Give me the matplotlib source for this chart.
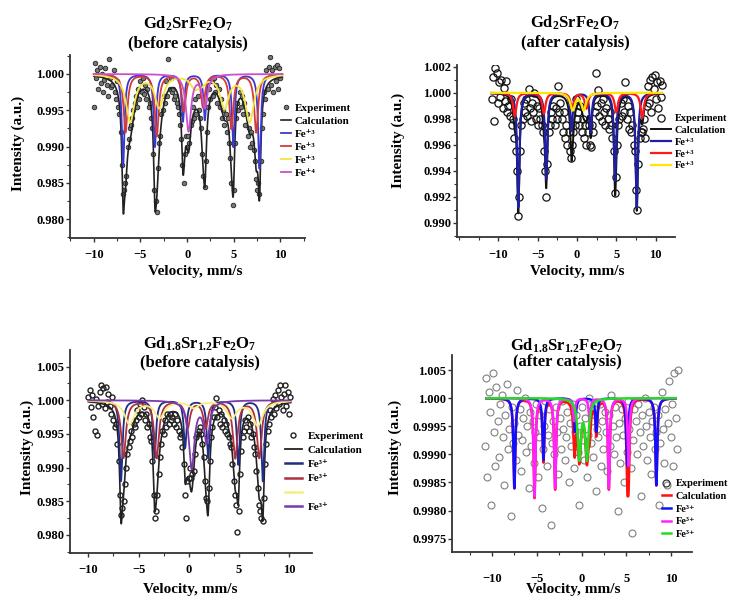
import numpy as np
import matplotlib.pyplot as plt
from matplotlib.lines import Line2D
from matplotlib.ticker import MultipleLocator, FixedLocator, FixedFormatter, FormatStrFormatter

plt.rcParams['font.family'] = ['Liberation Serif', 'DejaVu Serif']
plt.rcParams['font.weight'] = 'bold'
plt.rcParams['mathtext.fontset'] = 'custom'
plt.rcParams['mathtext.rm'] = 'Liberation Serif:bold'
plt.rcParams['mathtext.it'] = 'Liberation Serif:bold'
plt.rcParams['mathtext.bf'] = 'Liberation Serif:bold'

# ---------------------------------------------------------------------------
# line parameters: position (mm/s), depth (1e-4 of baseline), half width
# A: Gd2SrFe2O7 before catalysis
a_blue_pos = [-6.85, -3.45, -0.45, 1.9, 4.95, 7.75]
a_blue_dep = [125, 100, 65, 63, 100, 130]
a_red_pos = [-6.6, -3.25, -0.35, 1.7, 4.75, 7.4]
a_red_dep = [80, 85, 50, 45, 75, 80]
a_yel_pos = [-6.1, -3.0, 0.8, 1.5, 4.0, 6.7]
a_yel_dep = [65, 45, 15, 10, 45, 65]
a_mag_pos = [0.15, 1.9]
a_mag_dep = [78, 45]
a_hw = [0.17, 0.25, 0.55, 0.33]

# B: Gd2SrFe2O7 after catalysis
b_blue_pos = [-7.45, -3.9, -0.7, 1.75, 4.85, 7.6]
b_blue_dep = [88, 66, 29, 30, 67, 88]
b_red_pos = [-7.9, -4.2, -0.6, 1.2, 5.0, 8.3]
b_red_dep = [18, 16, 12, 12, 15, 19]
b_yel_pos = [-0.55, 0.85]
b_yel_dep = [13, 13]
b_hw = [0.17, 0.25, 0.35]

# C: Gd1.8Sr1.2Fe2O7 before catalysis
c_blue_pos = [-6.75, -3.4, -0.35, 1.95, 4.95, 7.4]
c_blue_dep = [120, 85, 70, 85, 95, 120]
c_red_pos = [-6.5, -3.2, -0.1, 1.7, 4.65, 7.05]
c_red_dep = [85, 85, 40, 40, 85, 85]
c_yel_pos = [-5.9, -2.9, 0.5, 4.3, 6.9]
c_yel_dep = [35, 25, 10, 25, 37]
c_pur_pos = [0.3, 1.8]
c_pur_dep = [100, 60]
c_hw = [0.17, 0.28, 0.6, 0.33]

# D: Gd1.8Sr1.2Fe2O7 after catalysis
d_blue_pos = [-7.5, -4.25, -0.75, 1.65, 5.1, 8.35]
d_blue_dep = [16, 11, 6, 6, 12, 15.5]
d_mag_pos = [-5.25, -2.95, -0.85, 0.9, 3.05, 5.25]
d_mag_dep = [17.5, 16, 4, 4, 16, 12]
d_grn_pos = [-0.25, 0.6]
d_grn_dep = [10.5, 10.5]
d_hw = [0.12, 0.12, 0.22]

# experimental points: deviation from 1 in units of 1e-4, evenly spaced channels
a_exp = [-45, 15, -5, 5, -20, 10, -12, 0, -25, -8, 8, -15, -30, 20, -5, -18,
         -15, 5, -25, -35, -10, -45, -55, -80, -125, -165, -160, -150, -140, -100, -90, -75,
         -70, -60, -50, -40, -30, -45, -20, -35, -10, -25, -5, -28, -15, -35, -20, -45,
         -40, -60, -75, -110, -160, -175, -190, -130, -95, -85, -55, -50, -30, -40, -10, -30,
         20, -20, -5, -25, -20, -35, -30, -40, -45, -55, -70, -90, -125, -150, -110, -85,
         -100, -85, -95, -70, -65, -45, -60, -35, -55, -30, -50, -60, -75, -110, -140, -155,
         -120, -80, -45, -20, -35, -10, -30, -5, -25, -15, -40, -20, -45, -35, -60, -50,
         -70, -55, -80, -60, -95, -115, -150, -180, -160, -95, -60, -40, -50, -25, -45, -30,
         -55, -40, -70, -55, -85, -75, -100, -80, -95, -105, -120, -145, -160, -150, -165, -120,
         -75, -55, -25, -35, 5, -20, 10, 24, -15, 5, -25, 10, -10, 12, -20, 8, -5]
b_exp = [-5, 12, -22, 19, 15, -8, 8, -3, 10, -12, 4, -6, 9, -15, -10,
         -18, -5, -25, -20, -35, -45, -60, -95, -80, -45, -25, -20, -8, -15, -5,
         -18, 3, -12, -22, -8, -15, 0, -20, -10, -25, -12, -20, -25, -30, -45,
         -60, -80, -55, -30, -25, -15, -20, -10, -25, -12, -20, 5, -15, -8, -20,
         -30, -15, -35, -25, -40, -30, -45, -50, -40, -30, -25, -5, -20, -15, -25,
         -10, -30, -20, -35, -25, -40, -30, -25, -40, -42, -25, -30, -15, 15, -10,
         2, -18, -8, -22, -5, -15, -25, -12, -20, -28, -15, -25, -35, -45, -77,
         -65, -40, -25, -20, -8, -18, -5, -15, 8, -20, -10, -28, -15, -30, -25,
         -40, -45, -75, -90, -55, -35, -30, -30, -28, -20, -35, -10, 5, -8, 10,
         -15, 12, 3, 14, -5, 8, -12, 9, -3, 6]
c_exp = [5, 15, -10, 8, -25, -45, 2, -52, -8, 12, 22, -5, 18, -12, 20, -3,
         10, -8, -20, 5, -30, -40, -35, -65, -90, -140, -170, -160, -150, -125, -100, -80,
         -70, -60, -45, -55, -35, -40, -30, -15, -25, -5, -20, 0, -10, -30, -20, -40,
         -35, -55, -60, -90, -140, -175, -165, -140, -110, -85, -65, -45, -50, -30, -40, -20,
         -35, -20, -30, -25, -35, -20, -40, -30, -45, -55, -50, -70, -95, -140, -175, -120,
         -115, -100, -115, -110, -105, -80, -55, -50, -45, -40, -50, -65, -85, -120, -145, -150,
         -130, -90, -55, -40, -25, -10, 3, -25, -15, -35, -20, -40, -30, -45, -35, -50,
         -55, -65, -70, -95, -120, -140, -155, -196, -165, -110, -75, -55, -45, -30, -40, -25,
         -45, -35, -55, -50, -70, -80, -105, -130, -155, -165, -175, -180, -145, -95, -65, -45,
         -35, -15, -25, 2, -20, 8, -12, 15, -5, 22, 5, -15, 10, 22, -8, 12, -20, 5]
d_exp = [-8.5, 3.5, -14, 1, -2.5, -19, 4.5, -6, -12, 2, -4, -10.5, -1, 0.5, -7, -15.5,
         -3, 2.5, -9, -5.5, -21, -1.5, -8, -4.5, -11, 1.5, -6.5, -2, -13, -7.5, -3.5, 0,
         -9.5, -5, -16, -2.5, -8.5, -4, -11.5, -6, -1, -14, -7, -3, -19.5, -9, -5, -0.5,
         -12, -6.5, -2, -22.5, -8, -4, -10, -1.5, -6, -13.5, -3.5, -9, -0.5, -5.5, -11, -7,
         -2.5, -15, -4.5, -8.5, -1, -12.5, -6, -3, -9.5, -19, -5, -1.5, -7.5, -11, -3.5, -14,
         -6.5, 0, -8, -4, -10.5, -2, -16.5, -5.5, -7, -1, -12, -4, -9, -2.5, -6, -13, -3,
         -8.5, 0.5, -5, -10, -1.5, -7, -20, -4.5, -11.5, -2, -6.5, -15, -3.5, -9.5, -0.5,
         -5.5, -12.5, -24, -7.5, -2, -4, -10, -1, -6, -17.5, -3, -8.5, 0, -5, -11, -2.5, -7,
         -13.5, -4, -1.5, -9, -6, -3, -19, -8, 1, -5.5, -11.5, -2, -15.5, -4.5, 3, -7, -1,
         -12, 4.5, -3.5, -9, 5]

W, H = 734, 599
fig = plt.figure(figsize=(W / 100, H / 100), dpi=100)


def dips(v, pos, dep, hw):
    out = np.zeros_like(v)
    for p, d in zip(pos, dep):
        out += d / (1 + ((v - p) / hw) ** 2)
    return out * 1e-4


def make_ax(l, t, r, b, xlim, ylim, xpad):
    ax = fig.add_axes([l / W, 1 - b / H, (r - l) / W, (b - t) / H])
    ax.set_xlim(xlim)
    ax.set_ylim(ylim)
    for s in ['top', 'right']:
        ax.spines[s].set_visible(False)
    for s in ['left', 'bottom']:
        ax.spines[s].set_linewidth(1.3)
        ax.spines[s].set_color('#333333')
    ax.tick_params(labelsize=9, width=1, length=3, color='#333333')
    ax.tick_params(axis='y', pad=1)
    ax.tick_params(axis='x', pad=xpad)
    ax.tick_params(which='minor', length=2, width=0.8, color='#333333')
    ax.xaxis.set_major_locator(FixedLocator([-10, -5, 0, 5, 10]))
    ax.xaxis.set_minor_locator(MultipleLocator(2.5))
    return ax


def texts(tx, ty1, ty2, formula, state, ylx, yly, xlx, xly):
    fig.text(tx / W, 1 - ty1 / H, formula, ha='center', va='center', fontsize=12, fontweight='bold')
    fig.text(tx / W, 1 - ty2 / H, state, ha='center', va='center', fontsize=12, fontweight='bold')
    fig.text(ylx / W, 1 - yly / H, 'Intensity (a.u.)', rotation=90, ha='center', va='center',
             fontsize=11, fontweight='bold')
    fig.text(xlx / W, 1 - xly / H, 'Velocity, mm/s', ha='center', va='center',
             fontsize=11, fontweight='bold')


def add_legend(ax, handles, labels, x, y, fs, hl, htp, ls):
    ax.legend(handles, labels, loc='upper left', bbox_to_anchor=(x / W, 1 - y / H),
              bbox_transform=fig.transFigure, frameon=False, fontsize=fs, handlelength=hl,
              handletextpad=htp, labelspacing=ls, borderpad=0, borderaxespad=0)


# ---------------- panel A ----------------
ax = make_ax(70, 55, 305, 238, (-12.55, 12.63), (0.97743, 1.00261), 5)
ax.yaxis.set_major_locator(MultipleLocator(0.005))
ax.yaxis.set_minor_locator(MultipleLocator(0.0025))
ax.yaxis.set_major_formatter(FormatStrFormatter('%.3f'))
v = np.linspace(-10, 10.2, 2000)
ve = np.linspace(-10, 10, len(a_exp))
ax.plot(ve, 1 + np.array(a_exp) * 1e-4, 'o', ms=3.3, mfc='#777777', mec='#222222', mew=0.6, zorder=1)
comps = [(a_blue_pos, a_blue_dep, a_hw[0], '#3a3ad0'), (a_red_pos, a_red_dep, a_hw[1], '#d23c3c'),
         (a_yel_pos, a_yel_dep, a_hw[2], '#f2e640'), (a_mag_pos, a_mag_dep, a_hw[3], '#cc4fcc')]
total = sum(dips(v, p, d, w) for p, d, w, c in comps)
ax.plot(v, 1 - total, color='#222222', lw=1.2, zorder=2)
for p, d, w, c in comps:
    ax.plot(v, 1 - dips(v, p, d, w), color=c, lw=1.3, zorder=3)
h = [Line2D([], [], ls='none', marker='o', ms=3.3, mfc='#777777', mec='#222222', mew=0.6),
     Line2D([], [], color='#222222', lw=1.2)] + [Line2D([], [], color=c[3], lw=1.3) for c in comps]
add_legend(ax, h, ['Experiment', 'Calculation', 'Fe⁺³', 'Fe⁺³', 'Fe⁺³', 'Fe⁺⁴'], 281, 103, 8, 0.9, 0.3, 0.3)
texts(188, 24, 44, r'Gd$_2$SrFe$_2$O$_7$', '(before catalysis)', 18, 143, 195, 272)

# ---------------- panel B ----------------
ax = make_ax(457, 65, 675, 237, (-15.24, 12.46), (0.98892, 1.00213), 6)
ax.yaxis.set_major_locator(MultipleLocator(0.002))
ax.yaxis.set_minor_locator(MultipleLocator(0.001))
ax.yaxis.set_major_formatter(FormatStrFormatter('%.3f'))
v = np.linspace(-10.9, 10.8, 2000)
ve = np.linspace(-10.8, 10.8, len(b_exp))
ax.plot(ve, 1 + np.array(b_exp) * 1e-4, 'o', ms=5.2, mfc='none', mec='#111111', mew=0.9, zorder=1)
comps = [(b_blue_pos, b_blue_dep, b_hw[0], '#1f1f9f'), (b_red_pos, b_red_dep, b_hw[1], '#ff1a1a'),
         (b_yel_pos, b_yel_dep, b_hw[2], '#ffe600')]
total = sum(dips(v, p, d, w) for p, d, w, c in comps)
ax.plot(v, 1 - total, color='#111111', lw=1.4, zorder=2)
for p, d, w, c in comps:
    ax.plot(v, 1 - dips(v, p, d, w), color=c, lw=1.6, zorder=3)
h = [Line2D([], [], ls='none', marker='o', ms=5.2, mfc='none', mec='#111111', mew=0.9),
     Line2D([], [], color='#111111', lw=1.4)] + [Line2D([], [], color=c[3], lw=1.6) for c in comps]
add_legend(ax, h, ['Experiment', 'Calculation', 'Fe⁺³', 'Fe⁺³', 'Fe⁺³'], 651, 114, 7.5, 1.9, 0.4, 0.24)
texts(575, 23, 43, r'Gd$_2$SrFe$_2$O$_7$', '(after catalysis)', 398, 140, 577, 272)

# ---------------- panel C ----------------
ax = make_ax(70, 350, 312, 553, (-11.84, 12.31), (0.97732, 1.00746), 5)
ax.yaxis.set_major_locator(MultipleLocator(0.005))
ax.yaxis.set_minor_locator(MultipleLocator(0.0025))
ax.yaxis.set_major_formatter(FormatStrFormatter('%.3f'))
v = np.linspace(-10, 10.2, 2000)
ve = np.linspace(-10, 10.125, len(c_exp))
ax.plot(ve, 1 + np.array(c_exp) * 1e-4, 'o', ms=3.6, mfc='none', mec='#222222', mew=1.0, zorder=1)
comps = [(c_blue_pos, c_blue_dep, c_hw[0], '#1f2d84'), (c_red_pos, c_red_dep, c_hw[1], '#b03040'),
         (c_yel_pos, c_yel_dep, c_hw[2], '#f5f07a'), (c_pur_pos, c_pur_dep, c_hw[3], '#7a3aa8')]
total = sum(dips(v, p, d, w) for p, d, w, c in comps)
ax.plot(v, 1 - total, color='#222222', lw=1.2, zorder=2)
for p, d, w, c in comps:
    ax.plot(v, 1 - dips(v, p, d, w), color=c, lw=1.3, zorder=3)
h = [Line2D([], [], ls='none', marker='o', ms=3.6, mfc='none', mec='#222222', mew=1.0),
     Line2D([], [], color='#222222', lw=1.3)] + [Line2D([], [], color=c[3], lw=1.8) for c in comps]
add_legend(ax, h, ['Experiment', 'Calculation', 'Fe³⁺', 'Fe³⁺', '', 'Fe³⁺'], 285, 431, 8, 1.5, 0.55, 0.4)
texts(200, 344, 363, r'Gd$_{1.8}$Sr$_{1.2}$Fe$_2$O$_7$', '(before catalysis)', 27, 447, 190, 590)

# ---------------- panel D ----------------
ax = make_ax(452, 355, 692, 552, (-14.46, 12.33), (0.997262, 1.000767), 12)
ax.yaxis.set_major_locator(FixedLocator([0.9975, 0.998, 0.9985, 0.999, 0.9995, 1.000, 1.0005]))
ax.yaxis.set_major_formatter(FixedFormatter(['0.9975', '0.9980', '0.9985', '0.9990', '0.9995', '1.000', '1.005']))
v = np.linspace(-10.6, 10.5, 3000)
ve = np.linspace(-10.8, 10.8, len(d_exp))
ax.plot(ve, 1 + np.array(d_exp) * 1e-4, 'o', ms=5, mfc='none', mec='#808080', mew=0.8, zorder=1)
comps = [(d_blue_pos, d_blue_dep, d_hw[0], '#1010ff'), (d_mag_pos, d_mag_dep, d_hw[1], '#ff22ff'),
         (d_grn_pos, d_grn_dep, d_hw[2], '#22dd22')]
total = sum(dips(v, p, d, w) for p, d, w, c in comps)
ax.plot(v, 1 - total, color='#ff1010', lw=1.8, zorder=2)
for p, d, w, c in comps:
    ax.plot(v, 1 - dips(v, p, d, w), color=c, lw=1.8, zorder=3)
h = [Line2D([], [], ls='none', marker='o', ms=5, mfc='none', mec='#333333', mew=0.9),
     Line2D([], [], color='#ff1010', lw=1.8)] + [Line2D([], [], color=c[3], lw=1.8) for c in comps]
add_legend(ax, h, ['Experiment', 'Calculation', 'Fe³⁺', 'Fe³⁺', 'Fe³⁺'], 662, 479, 7.5, 0.85, 0.48, 0.32)
texts(567, 346, 362, r'Gd$_{1.8}$Sr$_{1.2}$Fe$_2$O$_7$', '(after catalysis)', 395, 447, 573, 590)

fig.savefig('out.png', dpi=100, facecolor='white')
